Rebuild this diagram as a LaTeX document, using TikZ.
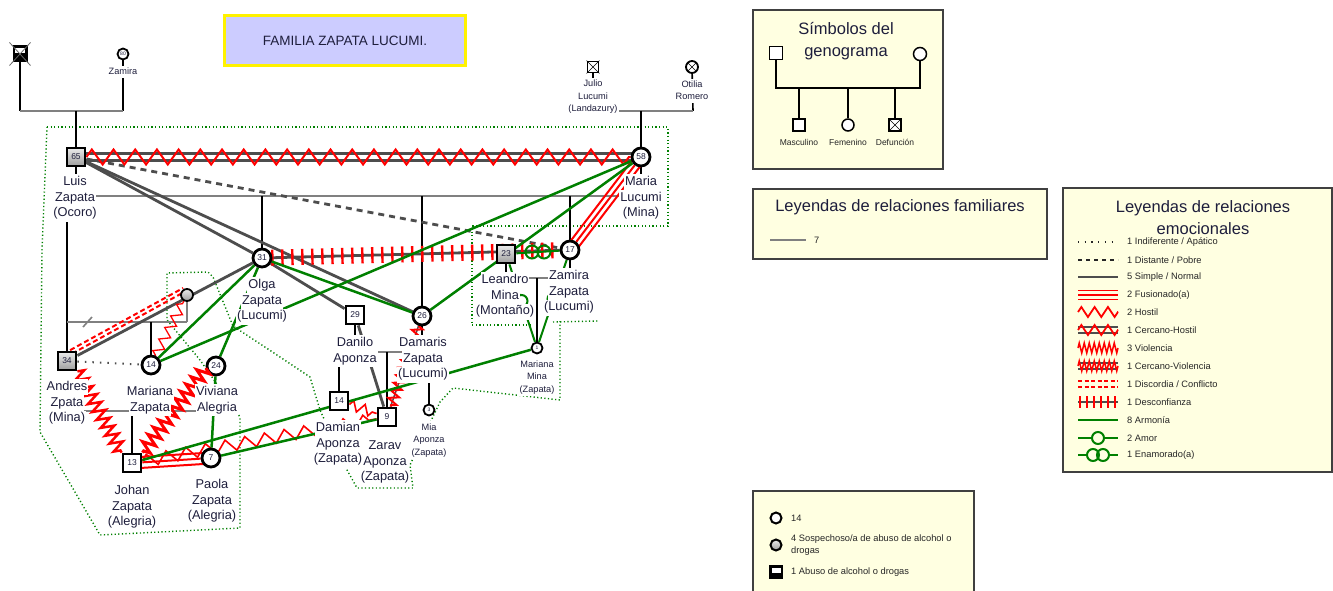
\documentclass[tikz,border=0pt]{standalone}
\usepackage{fontspec}
\setmainfont{Liberation Sans}
\usetikzlibrary{calc,decorations.pathmorphing,decorations.pathreplacing}
\pgfdeclarelayer{bg}
\pgfsetlayers{bg,main}
\definecolor{txt}{RGB}{30,30,60}
\definecolor{rel}{RGB}{77,77,77}
\definecolor{fam}{RGB}{128,128,128}
\definecolor{harm}{RGB}{0,128,0}
\definecolor{hred}{RGB}{255,0,0}
\definecolor{legfill}{RGB}{255,255,225}
\definecolor{titfill}{RGB}{204,204,255}
\newcommand\wl[1]{{\setlength{\fboxsep}{0pt}\colorbox{white}{\strut\hspace{1pt}#1\hspace{1pt}}}}
\newcommand\offline[6]{\draw[#1] ($(#2)!#4!#5:(#3)$) -- ($(#3)!#4!#6:(#2)$);}
\tikzset{
 male/.style={rectangle, draw=black, line width=2.8pt, fill=white, minimum size=18pt, inner sep=0pt, text=txt, font=\fontsize{8.5}{9}\selectfont},
 female/.style={circle, draw=black, line width=2.8pt, fill=white, minimum size=18pt, inner sep=0pt, text=txt, font=\fontsize{8.5}{9}\selectfont},
 smallf/.style={circle, draw=black, line width=1.8pt, fill=white, minimum size=11pt, inner sep=0pt, text=txt, font=\fontsize{5}{5}\selectfont},
 grayshade/.style={top color=black!8, bottom color=black!38},
 lbl/.style={align=center, inner sep=0pt, text=txt, font=\fontsize{12.8}{15.8}\selectfont},
 slbl/.style={align=center, inner sep=0pt, text=txt, font=\fontsize{9.2}{12.5}\selectfont},
 famline/.style={draw=fam, line width=1.6pt},
 childline/.style={draw=black, line width=1.6pt},
 simple/.style={draw=rel, line width=2.8pt},
 distant/.style={draw=rel, line width=2.8pt, dash pattern=on 6pt off 5pt},
 indiff/.style={draw=rel, line width=2pt, dash pattern=on 1.5pt off 6pt},
 harmony/.style={draw=harm, line width=2.5pt},
 hostile/.style={draw=hred, line width=1.6pt, decorate, decoration={zigzag, segment length=20pt, amplitude=6pt}},
 violent/.style={draw=hred, line width=2.5pt, decorate, decoration={zigzag, segment length=9pt, amplitude=6.5pt}},
 fused/.style={draw=hred, line width=2pt},
 ticksred/.style={draw=hred, line width=2.4pt, decorate, decoration={ticks, segment length=10pt, amplitude=8pt}},
 discord/.style={draw=hred, line width=2pt, dash pattern=on 5pt off 3pt},
 household/.style={draw=harm, line width=1.4pt, dash pattern=on 1.2pt off 2.4pt},
 legbox/.style={draw=black!75, line width=1.2pt, fill=legfill},
 ttl/.style={align=center, inner sep=0pt, text=txt, font=\fontsize{16.5}{21.5}\selectfont},
 legt/.style={inner sep=0pt, text=black!85, font=\fontsize{9.3}{12.5}\selectfont, align=left},
 legs/.style={inner sep=0pt, text=black!85, font=\fontsize{8.5}{10}\selectfont},
 abuse/.style={rectangle, draw=black, line width=2pt, fill=black, inner sep=0pt,
   path picture={\fill[white] ([xshift=1.5pt,yshift=-1.5pt]path picture bounding box.north west) rectangle ([xshift=-1.5pt,yshift=-7pt]path picture bounding box.north east);}},
}
\begin{document}
\begin{tikzpicture}[x=1pt,y=-1pt]
\useasboundingbox (0,0) rectangle (1333,591);

% ---------- title ----------
\node[draw=yellow, line width=3pt, fill=titfill, minimum width=241pt, minimum height=50pt, inner sep=0pt, text=txt, font=\fontsize{13.5}{15}\selectfont] (title) at (345,40.5) {FAMILIA ZAPATA LUCUMI.};

% ---------- persons ----------
\node[abuse, minimum width=13pt, minimum height=15pt] (abuelo) at (20,54) {};
\draw[black!60, line width=0.8pt] ([shift={(-3,-3)}]abuelo.north west) -- ([shift={(3,3)}]abuelo.south east)
  ([shift={(3,-3)}]abuelo.north east) -- ([shift={(-3,3)}]abuelo.south west);
\node[smallf] (zamiratop) at (123,54) {80};
\node[male, minimum size=11pt, line width=1.8pt] (julio) at (593,67) {};
\draw[line width=0.6pt] (julio.north west) -- (julio.south east) (julio.north east) -- (julio.south west);
\node[female, minimum size=12pt, line width=1.8pt] (otilia) at (692,67) {};
\draw[line width=0.6pt] (otilia.north west) -- (otilia.south east) (otilia.north east) -- (otilia.south west);

\node[male, grayshade] (luis) at (76,157) {65};
\node[female] (maria) at (641,157) {58};
\node[female] (olga) at (262,258) {31};
\node[male] (danilo) at (355,315) {29};
\node[female] (damaris) at (422,316) {26};
\node[male, grayshade] (leandro) at (506,254) {23};
\node[female] (zamira) at (570,250) {17};
\node[male, grayshade] (andres) at (67,361) {34};
\node[female] (mariana) at (151,365) {14};
\node[female] (viviana) at (216,366) {24};
\node[male] (johan) at (132,463) {13};
\node[female] (paola) at (211,458) {7};
\node[male] (damian) at (339,401) {14};
\node[male] (zarav) at (387,417) {9};
\node[smallf] (marianamina) at (537,348) {1};
\node[smallf] (mia) at (429,410) {3};
\node[female, minimum size=12pt, line width=1.8pt, grayshade] (exw) at (187,295) {};

% violencia between nodes and labels
\draw[violent] (andres.south east) -- (johan.north west);
\draw[violent, line width=3pt] (viviana.192) -- (johan.north east);

% ---------- labels ----------
\node[slbl] (lzamiratop) at (123,72) {\wl{Zamira}};
\node[slbl] (ljulio) at (593,97) {\wl{Julio}\\\wl{Lucumi}\\\wl{(Landazury)}};
\node[slbl] (lotilia) at (692,91) {\wl{Otilia}\\\wl{Romero}};
\node[lbl] (lluis) at (75,198) {\wl{Luis}\\\wl{Zapata}\\\wl{(Ocoro)}};
\node[lbl] (lmaria) at (641,198) {\wl{Maria}\\\wl{Lucumi}\\\wl{(Mina)}};
\node[lbl] (lolga) at (262,301) {\wl{Olga}\\\wl{Zapata}\\\wl{(Lucumi)}};
\node[lbl] (lleandro) at (505,296) {\wl{Leandro}\\\wl{Mina}\\\wl{(Montaño)}};
\node[lbl] (lzamira) at (569,292) {\wl{Zamira}\\\wl{Zapata}\\\wl{(Lucumi)}};
\node[lbl] (ldanilo) at (355,351) {\wl{Danilo}\\\wl{Aponza}};
\node[lbl] (ldamaris) at (423,359) {\wl{Damaris}\\\wl{Zapata}\\\wl{(Lucumi)}};
\node[slbl] (lmarianamina) at (537,377) {\wl{Mariana}\\\wl{Mina}\\\wl{(Zapata)}};
\node[slbl] (lmia) at (429,440) {\wl{Mia}\\\wl{Aponza}\\\wl{(Zapata)}};
\node[lbl] (ldamian) at (338,444) {\wl{Damian}\\\wl{Aponza}\\\wl{(Zapata)}};
\node[lbl] (lzarav) at (385,462) {\wl{Zarav}\\\wl{Aponza}\\\wl{(Zapata)}};
\node[lbl] (landres) at (67,403) {\wl{Andres}\\\wl{Zpata}\\\wl{(Mina)}};
\node[lbl] (lmariana) at (150,400) {\wl{Mariana}\\\wl{Zapata}};
\node[lbl] (lviviana) at (217,400) {\wl{Viviana}\\\wl{Alegria}};
\node[lbl] (ljohan) at (132,507) {\wl{Johan}\\\wl{Zapata}\\\wl{(Alegria)}};
\node[lbl] (lpaola) at (212,501) {\wl{Paola}\\\wl{Zapata}\\\wl{(Alegria)}};

% ---------- background: households, family lines, relations ----------
\begin{pgfonlayer}{bg}
\fill[white] (0,0) rectangle (1333,591);
\draw[household] (47,127) -- (668,127) -- (668,226) -- (472,226) -- (472,325) -- (533,325);
\draw[household] (553,322) -- (598,321);
\draw[household] (560,321) -- (560,400) -- (453,388) -- (440,402) -- (410,465) -- (413,488) -- (357,488) -- (347,470) -- (320,410) -- (310,377) -- (280,357) -- (233,326) -- (213,277) -- (208,272) -- (167,273) -- (167,320) -- (200,360) -- (240,417) -- (240,528) -- (100,535) -- (40,432) -- (42,250) -- (47,127);

% family
\coordinate (gpL) at (20,111); \coordinate (gpR) at (123,111); \coordinate (gpC) at (76,111);
\draw[childline] (abuelo) -- (gpL);
\draw[childline] (zamiratop) -- (gpR);
\draw[famline] (gpL) -- (gpR);
\draw[childline] (gpC) -- (luis);
\coordinate (mpL) at (593,111); \coordinate (mpR) at (693,111); \coordinate (mpC) at (641,111);
\draw[childline] (julio) -- (mpL);
\draw[childline] (otilia) -- (mpR);
\draw[famline] (mpL) -- (mpR);
\draw[childline] (mpC) -- (maria);
\coordinate (sibL) at (76,196); \coordinate (sibR) at (641,196);
\draw[childline] (luis) -- (sibL);
\draw[childline] (maria) -- (sibR);
\draw[famline] (sibL) -- (sibR);
\draw[childline] (olga |- sibL) -- (olga);
\draw[childline] (damaris |- sibL) -- (damaris);
\draw[childline] (zamira |- sibL) -- (zamira);
\draw[childline] (andres |- sibL) -- (andres);
\coordinate (acL) at (67,322); \coordinate (acR) at (187,322);
\draw[famline] (acL) -- (acR);
\draw[famline] (exw) -- (acR);
\draw[famline] (83,327) -- (92,317);
\draw[childline] (mariana |- acL) -- (mariana);
\coordinate (jpL) at (67,411); \coordinate (jpR) at (216,411);
\draw[famline] (jpL) -- (jpR);
\draw[childline] (johan |- jpL) -- (johan);
\coordinate (ddL) at (339,352); \coordinate (ddR) at (429,352);
\draw[childline] (danilo) -- (danilo |- ddL);
\draw[childline] (damaris) -- (damaris |- ddL);
\draw[famline] (ddL) -- (ddR);
\draw[childline] (damian |- ddL) -- (damian);
\draw[childline] (zarav |- ddL) -- (zarav);
\draw[childline] (mia |- ddL) -- (mia);
\coordinate (lzL) at (506,278); \coordinate (lzR) at (570,278);
\draw[childline] (leandro) -- (leandro |- lzL);
\draw[childline] (zamira) -- (zamira |- lzL);
\draw[famline] (lzL) -- (lzR);
\draw[childline] (marianamina |- lzL) -- (marianamina);

% simple
\draw[simple] (luis) -- (olga);
\draw[simple] (luis) -- (damaris);
\draw[simple] (olga) -- (danilo);
\draw[simple] (andres) -- (olga);
\draw[simple] (danilo) -- (zarav);
\draw[distant] (luis) -- (zamira);
\draw[indiff] (andres) -- (mariana);
% cercano-hostil
\offline{simple, line width=2.2pt}{luis.center}{maria.center}{3.5pt}{90}{-90}
\offline{simple, line width=2.2pt}{luis.center}{maria.center}{3.5pt}{-90}{90}
\draw[hostile, line width=2pt, decoration={zigzag, segment length=21.7pt, amplitude=7.5pt}] (luis) -- (maria);
% desconfianza
\draw[simple] (olga) -- (zamira);
\draw[ticksred] (olga) -- (zamira);
% fusionado
\draw[fused] (maria) -- (zamira);
\offline{fused}{maria.center}{zamira.center}{5pt}{90}{-90}
\offline{fused}{maria.center}{zamira.center}{5pt}{-90}{90}
\draw[fused] (johan) -- (paola);
\offline{fused}{johan.center}{paola.center}{5.5pt}{90}{-90}
\offline{fused}{johan.center}{paola.center}{5.5pt}{-90}{90}
% hostil
\draw[hostile] (johan) -- (zarav);
\draw[hostile, decoration={zigzag, segment length=12pt, amplitude=5pt}] (damian) -- (zarav);
% violencia (thin) and cercano-violencia
\draw[hred, line width=1.3pt, decorate, decoration={zigzag, segment length=13pt, amplitude=5pt}] (mariana) -- (exw);
\draw[simple, line width=1.5pt] (damaris) -- (zarav);
\draw[violent, line width=2pt, decoration={zigzag, segment length=8pt, amplitude=5pt}] (damaris) -- (zarav);
% discordia
\offline{discord}{andres.center}{exw.center}{4pt}{90}{-90}
\offline{discord}{andres.center}{exw.center}{8pt}{90}{-90}
% armonia
\draw[harmony] (maria) -- (mariana);
\draw[harmony] (maria) -- (damaris);
\draw[harmony] (olga) -- (damaris);
\draw[harmony] (olga) -- (mariana);
\draw[harmony] (viviana) -- (olga);
\draw[harmony] (johan) -- (marianamina);
\draw[harmony] (paola) -- (zarav);
\draw[harmony] (viviana) -- (paola);
% amor
\draw[harmony, line width=2pt] (leandro) -- (marianamina);
\draw[harmony, line width=2pt, fill=white] ($(leandro.center)!0.5!(marianamina.center)$) circle[radius=6pt];
\draw[harmony, line width=2pt] (zamira) -- (marianamina);
\draw[harmony, line width=2pt, fill=white] ($(zamira.center)!0.5!(marianamina.center)$) circle[radius=6pt];
% enamorado
\draw[harmony, line width=2pt] (leandro) -- (zamira);
\coordinate (lzm) at ($(leandro.center)!0.5!(zamira.center)$);
\draw[harmony, line width=2pt] ($(lzm)+(-6,0)$) circle[radius=6.5pt];
\draw[harmony, line width=2pt] ($(lzm)+(6,0)$) circle[radius=6.5pt];
\end{pgfonlayer}

% ---------- legend: symbols ----------
\draw[legbox] (753,10) rectangle (943,169);
\node[ttl] (symt) at (846,41) {Símbolos del\\genograma};
\node[rectangle, draw, line width=1.5pt, fill=white, minimum size=13pt, inner sep=0pt] (symM) at (776,53) {};
\node[circle, draw, line width=1.5pt, fill=white, minimum size=13pt, inner sep=0pt] (symF) at (920,54) {};
\node[rectangle, draw, line width=1.5pt, fill=white, minimum size=12pt, inner sep=0pt] (symC1) at (799,125) {};
\node[circle, draw, line width=1.5pt, fill=white, minimum size=12pt, inner sep=0pt] (symC2) at (848,125) {};
\node[rectangle, draw, line width=1.5pt, fill=white, minimum size=12pt, inner sep=0pt] (symC3) at (895,125) {};
\draw[line width=0.6pt] (symC3.north west) -- (symC3.south east) (symC3.north east) -- (symC3.south west);
\coordinate (symBL) at (776,88); \coordinate (symBR) at (920,88);
\draw[line width=1.6pt] (symM) -- (symBL) -- (symBR) -- (symF);
\draw[line width=1.6pt] (symC1 |- symBL) -- (symC1);
\draw[line width=1.6pt] (symC2 |- symBL) -- (symC2);
\draw[line width=1.6pt] (symC3 |- symBL) -- (symC3);
\node[legs] (symL1) at (799,142) {Masculino};
\node[legs] (symL2) at (848,142) {Femenino};
\node[legs] (symL3) at (895,142) {Defunción};

% ---------- legend: family relations ----------
\draw[legbox] (753,189) rectangle (1047,259);
\node[ttl] (famt) at (900,207) {Leyendas de relaciones familiares};
\draw[draw=fam, line width=2pt] (770,240) -- (806,240);
\node[legt, anchor=west] (fam7) at (814,240) {7};

% ---------- legend: emotional relations ----------
\draw[legbox] (1063,188) rectangle (1332,472);
\node[ttl] (emot) at (1203,217.5) {Leyendas de relaciones\\emocionales};
\draw[black!85, line width=1.3pt, dash pattern=on 1.2pt off 5.5pt] (1078,242) -- (1118,242);
\draw[black!85, line width=1.6pt, dash pattern=on 4pt off 4pt] (1078,260) -- (1118,260);
\draw[rel, line width=2.2pt] (1078,277) -- (1118,277);
\draw[hred, line width=1.6pt] (1078,290.5) -- (1118,290.5) (1078,295) -- (1118,295) (1078,299.5) -- (1118,299.5);
\draw[hred, line width=1.8pt, decorate, decoration={zigzag, segment length=13.3pt, amplitude=5pt}] (1078,312) -- (1118,312);
\draw[rel, line width=1.5pt] (1078,327) -- (1118,327) (1078,333) -- (1118,333);
\draw[hred, line width=1.8pt, decorate, decoration={zigzag, segment length=13.3pt, amplitude=5pt}] (1078,330) -- (1118,330);
\draw[hred, line width=1.5pt, decorate, decoration={zigzag, segment length=5pt, amplitude=5pt}] (1078,348) -- (1118,348);
\draw[rel, line width=1.5pt] (1078,363) -- (1118,363) (1078,369) -- (1118,369);
\draw[hred, line width=1.5pt, decorate, decoration={zigzag, segment length=5pt, amplitude=5pt}] (1078,366) -- (1118,366);
\draw[hred, line width=1.5pt, dash pattern=on 4pt off 2.5pt] (1078,381) -- (1118,381) (1078,387) -- (1118,387);
\draw[rel, line width=1.8pt] (1078,402) -- (1118,402);
\draw[hred, line width=1.8pt, decorate, decoration={ticks, segment length=7pt, amplitude=6pt}] (1080,402) -- (1118,402);
\draw[harm, line width=2pt] (1078,420) -- (1118,420);
\draw[harm, line width=2pt] (1078,438) -- (1092,438) (1104,438) -- (1118,438);
\draw[harm, line width=2pt] (1098,438) circle[radius=6pt];
\draw[harm, line width=2pt] (1078,455) -- (1087,455) (1109,455) -- (1118,455);
\draw[harm, line width=2pt] (1093,455) circle[radius=6pt] (1103,455) circle[radius=6pt];
\node[legt, anchor=west] (e1) at (1127,242) {1 Indiferente / Apático};
\node[legt, anchor=west] (e2) at (1127,260) {1 Distante / Pobre};
\node[legt, anchor=west] (e3) at (1127,277) {5 Simple / Normal};
\node[legt, anchor=west] (e4) at (1127,295) {2 Fusionado(a)};
\node[legt, anchor=west] (e5) at (1127,312) {2 Hostil};
\node[legt, anchor=west] (e6) at (1127,330) {1 Cercano-Hostil};
\node[legt, anchor=west] (e7) at (1127,348) {3 Violencia};
\node[legt, anchor=west] (e8) at (1127,366) {1 Cercano-Violencia};
\begin{scope}
\clip (1120,372) rectangle (1217,396);
\node[legt, anchor=west] (e9) at (1127,384) {1 Discordia / Conflicto};
\end{scope}
\node[legt, anchor=west] (e10) at (1127,402) {1 Desconfianza};
\node[legt, anchor=west] (e11) at (1127,420) {8 Armonía};
\node[legt, anchor=west] (e12) at (1127,438) {2 Amor};
\node[legt, anchor=west] (e13) at (1127,455) {1 Enamorado(a)};

% ---------- legend: conditions ----------
\fill[legfill] (753,491) rectangle (974,591);
\draw[draw=black!75, line width=1.2pt] (753,592) -- (753,491) -- (974,491) -- (974,592);
\node[female, minimum size=11pt, line width=2pt] (k1) at (776,518) {};
\node[female, minimum size=11pt, line width=2pt, grayshade] (k2) at (776,545) {};
\node[abuse, minimum size=12pt] (k3) at (776,572) {};
\node[legt, anchor=west] (k1t) at (791,518) {14};
\node[legt, anchor=west] (k2t) at (791,545) {4 Sospechoso/a de abuso de alcohol o\\drogas};
\node[legt, anchor=west] (k3t) at (791,572) {1 Abuso de alcohol o drogas};
\end{tikzpicture}
\end{document}
